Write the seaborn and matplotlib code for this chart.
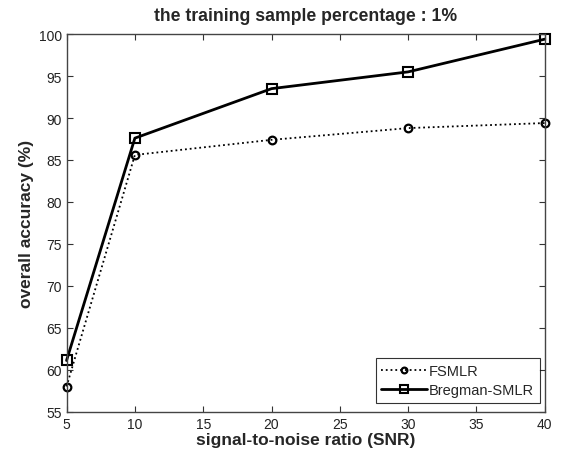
import pandas as pd
import matplotlib
matplotlib.use('Agg')
import matplotlib.pyplot as plt
import seaborn as sns

# значения
snr = [5, 10, 20, 30, 40]
fsmlr = [58.0, 85.6, 87.4, 88.8, 89.4]
bregman = [61.1, 87.6, 93.5, 95.5, 99.4]

sns.set_style('ticks')
plt.rcParams['font.family'] = ['Liberation Sans', 'DejaVu Sans']

df = pd.DataFrame({'snr': snr, 'FSMLR': fsmlr, 'Bregman-SMLR': bregman})

fig = plt.figure(figsize=(5.64, 4.56), dpi=100)
ax = fig.add_axes([0.118, 0.095, 0.848, 0.828])

sns.lineplot(data=df, x='snr', y='FSMLR', ax=ax, color='black', linestyle=':',
             linewidth=1.3, marker='o', markersize=5.5, markerfacecolor='none',
             markeredgecolor='black', markeredgewidth=1.6, label='FSMLR', clip_on=False)
sns.lineplot(data=df, x='snr', y='Bregman-SMLR', ax=ax, color='black', linestyle='-',
             linewidth=2, marker='s', markersize=7, markerfacecolor='none',
             markeredgecolor='black', markeredgewidth=1.5, label='Bregman-SMLR', clip_on=False)

ax.set_xlim(5, 40)
ax.set_ylim(55, 100)
ax.set_xticks(range(5, 41, 5))
ax.set_yticks(range(55, 101, 5))
ax.tick_params(direction='in', top=True, right=True, labelsize=10, length=4,
               color='#333333', labelcolor='#222222')
for s in ax.spines.values():
    s.set_visible(True)
    s.set_color('#444444')
    s.set_linewidth(1)

ax.set_title('the training sample percentage : 1%', fontsize=12.7, fontweight='bold', pad=10)
ax.set_xlabel('signal-to-noise ratio (SNR)', fontsize=12.5, fontweight='bold', labelpad=1)
ax.set_ylabel('overall accuracy (%)', fontsize=12.5, fontweight='bold', labelpad=3)

leg = ax.legend(loc='lower right', bbox_to_anchor=(0.9895, 0.023), fontsize=10.5,
                frameon=True, fancybox=False, edgecolor='black', borderaxespad=0,
                handlelength=3.1, handletextpad=0.15, labelspacing=0.37,
                borderpad=0.4, markerscale=0.75)
leg.get_frame().set_linewidth(0.8)

fig.savefig('out.png', dpi=100)
